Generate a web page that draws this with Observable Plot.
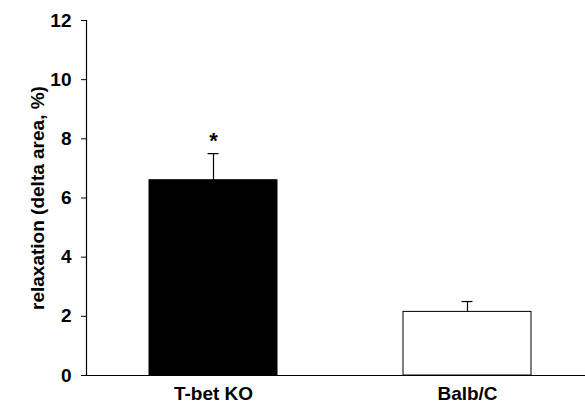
<!DOCTYPE html>
<html>
<head>
<meta charset="utf-8">
<script src="https://cdn.jsdelivr.net/npm/d3@7"></script>
<script src="https://cdn.jsdelivr.net/npm/@observablehq/plot@0.6"></script>
<style>
  html, body { margin: 0; padding: 0; background: white; }
  #chart { width: 585px; height: 404px; }
</style>
</head>
<body>
<div id="chart"></div>
<script>
const categories = ["T-bet KO", "Balb/C"];
const values = [6.6, 2.15];
const errors = [0.9, 0.35];
const fills = ["black", "white"];
const marks = ["*", ""];
const yTicks = [0, 2, 4, 6, 8, 10, 12];
const yLabel = "relaxation (delta area, %)";

const data = categories.map((c, i) => ({
  cat: c, v: values[i], e: errors[i], top: values[i] + errors[i], fill: fills[i], mark: marks[i]
}));

const font = "Liberation Sans, Arial, sans-serif";

const chart = Plot.plot({
  width: 585,
  height: 404,
  marginLeft: 86,
  marginRight: 0,
  marginTop: 20,
  marginBottom: 29,
  style: { fontFamily: font, background: "white", color: "black" },
  x: { domain: categories, range: [86, 594], paddingInner: 0.496, paddingOuter: 0.248 },
  y: { domain: [0, 12] },
  marks: [
    Plot.barY(data, { x: "cat", y: "v", fill: d => d.fill, stroke: "black", strokeWidth: 1 }),
    Plot.ruleX(data, { x: "cat", y1: "v", y2: "top", stroke: "black", strokeWidth: 1.2 }),
    Plot.tickY(data, { x: "cat", y: "top", stroke: "black", strokeWidth: 1.2, insetLeft: 58.5, insetRight: 58.5 }),
    Plot.text(data, { x: "cat", y: "top", text: "mark", dy: -6, lineAnchor: "bottom", fontSize: 22, fontWeight: "bold", fill: "black" }),
    Plot.ruleY([0], { stroke: "black", strokeWidth: 1.2 }),
    Plot.frame({ anchor: "left", stroke: "black", strokeWidth: 1.2 }),
    Plot.axisY({ ticks: yTicks, tickSize: 5, tickPadding: 10, fontSize: 19, fontWeight: "bold", label: null, tickFormat: d3.format("d") }),
    Plot.axisX({ tickSize: 0, tickPadding: 11, fontSize: 19, fontWeight: "bold", label: null }),
    Plot.text([yLabel], { frameAnchor: "left", text: d => d, rotate: -90, dx: -49, textAnchor: "middle", lineAnchor: "middle", fontSize: 19, fontWeight: "bold", fill: "black" })
  ]
});

document.getElementById("chart").appendChild(chart);
</script>
</body>
</html>
